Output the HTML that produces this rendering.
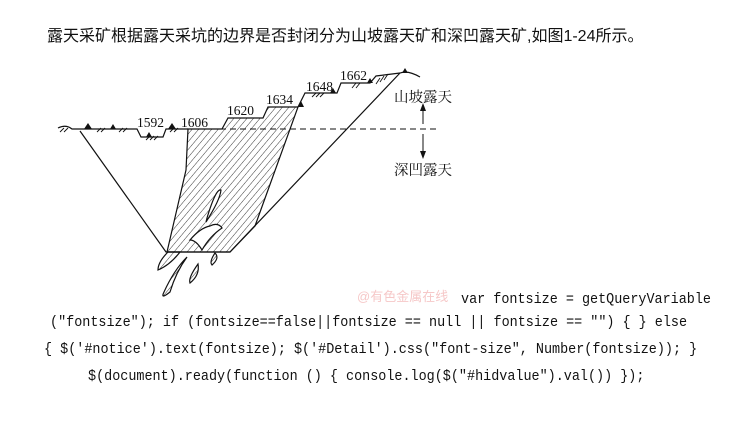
<!DOCTYPE html>
<html><head><meta charset="utf-8"><style>
body{margin:0;background:#fff;width:730px;height:425px;overflow:hidden;position:relative}
.t{position:absolute;white-space:pre;color:#111}
.c{font-family:"Liberation Mono",monospace;font-size:13.45px;transform:scaleY(1.12);transform-origin:0 0}
</style></head><body>
<div class="t" style="left:47px;top:22px;font-family:'Liberation Sans','Noto Sans CJK SC',sans-serif;font-size:16px">露天采矿根据露天采坑的边界是否封闭分为山坡露天矿和深凹露天矿,如图1-24所示。</div>
<svg width="730" height="425" style="position:absolute;left:0;top:0">
<defs><pattern id="h" width="5" height="5" patternUnits="userSpaceOnUse" patternTransform="rotate(40)"><line x1="0" y1="0" x2="0" y2="5" stroke="#222" stroke-width="0.9"/></pattern></defs>
<g stroke="#111" stroke-width="1.2" fill="none">
<path d="M188,129 L222,129 L228,118 L263,118 L268,107 L298,107 L255,226 L230,252 L167,252 L186,170 Z" fill="url(#h)"/>
<path d="M207,218 Q216,188 221,190 Q220,200 206,222Z" fill="#fff"/>
<path d="M190,240 Q200,228 210,226 Q218,222 222,228 Q210,236 202,250 Q196,240 190,240Z" fill="#fff"/>
<path d="M168,252 Q158,262 158,270 Q170,265 180,252Z" fill="url(#h)"/>
<path d="M187,257 Q176,272 170,292 Q160,300 164,292 Q174,270 187,257Z" fill="url(#h)"/>
<path d="M198,264 Q188,278 190,283 Q200,275 198,264Z" fill="url(#h)"/>
<path d="M215,253 Q209,262 212,265 Q220,258 215,253Z" fill="url(#h)"/>
<path d="M58,128 Q66,124 72,129 L137,129 L141,137 L163,137 L166,129 L188,129"/>
<path d="M298,107 L305,93 L337,93 L341,83 L370,83 L376,76 L400,73 Q408,70 420,77"/>
<path d="M80,131 L166,252 L230,252 L400,73"/>
<line x1="190" y1="129" x2="437" y2="129" stroke-dasharray="6,4" stroke-width="1"/>
<line x1="423" y1="106" x2="423" y2="124" stroke-width="1"/>
<line x1="423" y1="134" x2="423" y2="155" stroke-width="1"/>
</g>
<path d="M423,103 L420,111 L426,111Z M423,159 L420,151 L426,151Z" fill="#111"/>
<g stroke="#111" stroke-width="0.9">
<path d="M60,132 l4,-4 M64,132 l4,-4 M97,132 l4,-4 M101,132 l4,-4 M119,132 l4,-4 M123,132 l4,-4 M146,140 l4,-4 M150,140 l4,-4 M154,140 l4,-4 M170,132 l4,-4 M174,132 l4,-4 M312,97 l4,-4 M316,97 l4,-4 M320,97 l4,-4 M352,88 l4,-5 M356,88 l4,-5 M376,84 l4,-6 M380,82 l4,-6 M384,80 l4,-6"/>
</g>
<g fill="#111"><path d="M84,129 l4,-6 l4,6z M110,129 l3,-5 l3,5z M146,137 l3,-5 l3,5z M168,129 l4,-6 l4,6z M298,107 l3,-6 l3,6z M330,93 l3,-5 l3,5z M367,83 l3,-5 l3,5z M402,73 l3,-5 l3,5z"/></g>
<g font-family="'Liberation Serif',serif" font-size="13.5" fill="#111">
<text x="137" y="127">1592</text><text x="181" y="127">1606</text><text x="227" y="115">1620</text>
<text x="266" y="104">1634</text><text x="306" y="91">1648</text><text x="340" y="80">1662</text>
</g>
<g font-family="'Liberation Serif','Noto Serif CJK SC',serif" font-size="14.5" fill="#111">
<text x="394" y="102">山坡露天</text><text x="394" y="175">深凹露天</text></g>
<text x="357" y="301" font-family="'Liberation Sans','Noto Sans CJK SC',sans-serif" font-size="13" fill="#f6c8c8">@有色金属在线</text>
</svg>
<div class="t c" style="left:461px;top:292px">var fontsize = getQueryVariable</div>
<div class="t c" style="left:50px;top:315px">("fontsize"); if (fontsize==false||fontsize == null || fontsize == "") { } else</div>
<div class="t c" style="left:44px;top:342px">{ $('#notice').text(fontsize); $('#Detail').css("font-size", Number(fontsize)); }</div>
<div class="t c" style="left:88px;top:369px">$(document).ready(function () { console.log($("#hidvalue").val()) });</div>
</body></html>
